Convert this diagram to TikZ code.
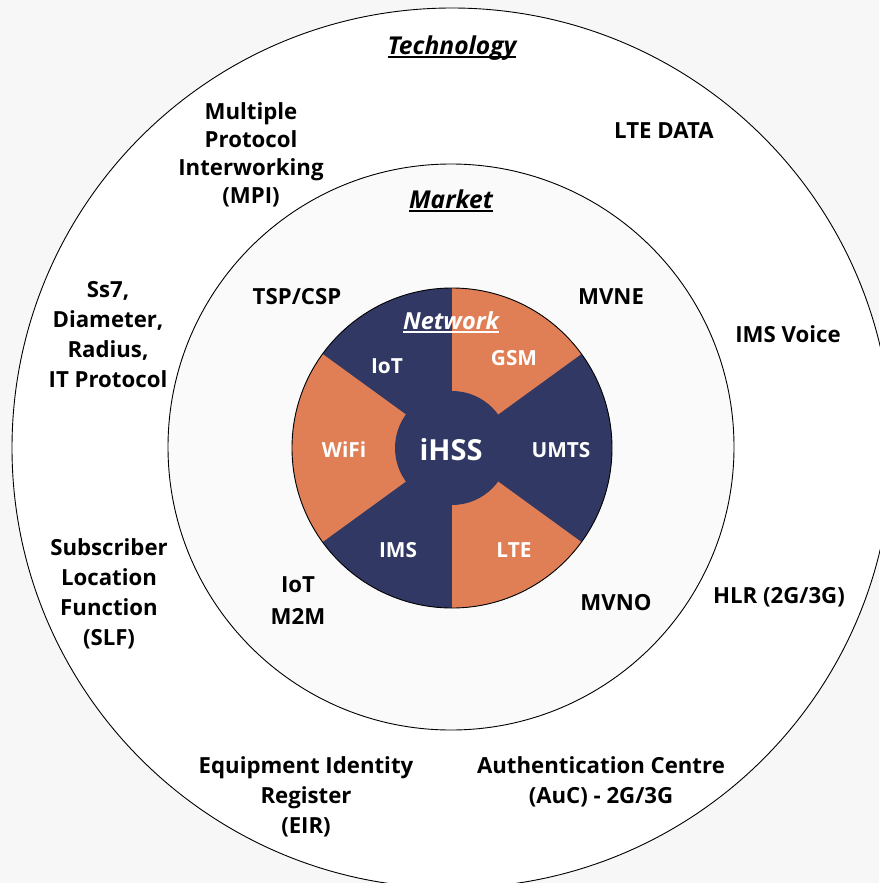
\documentclass[tikz,border=0pt]{standalone}
\usepackage{fontspec}
\setmainfont{Open Sans}
\newcommand\myul[2][3.2pt]{\setbox0\hbox{#2}\rlap{\rule[-#1]{\wd0}{1.7pt}}\box0}
\begin{document}
\definecolor{bgc}{HTML}{F7F7F7}
\definecolor{mkt}{HTML}{FAFAFA}
\definecolor{navy}{HTML}{313863}
\definecolor{orng}{HTML}{E07F55}
\begin{tikzpicture}[x=1pt,y=-1pt,
  lbl/.style={font=\fontsize{22.2}{30}\selectfont\bfseries,align=center,inner sep=0pt,text=black},
  wlbl/.style={font=\fontsize{20.8}{24}\selectfont\bfseries,align=center,inner sep=0pt,text=white},
  ttl/.style={font=\fontsize{24.6}{28}\selectfont\bfseries\itshape,align=center,inner sep=0pt},
  ring/.style={draw=black,line width=0.9pt}]
\useasboundingbox (0,0) rectangle (879,883);
\fill[bgc] (0,0) rectangle (879,883);
\coordinate (c) at (452,448);
\fill[white] (c) circle[radius=440];
\draw[ring] (c) circle[radius=440];
\fill[mkt] (451,447) circle[radius=283];
\draw[ring] (451,447) circle[radius=283];
% network pie
\fill[navy] (c) circle[radius=160];
\fill[orng] (c) -- ++(-90:160) arc[start angle=-90,end angle=-36,radius=160] -- cycle;
\fill[orng] (c) -- ++(36:160) arc[start angle=36,end angle=90,radius=160] -- cycle;
\fill[orng] (c) -- ++(144:160) arc[start angle=144,end angle=216,radius=160] -- cycle;
\fill[navy] (c) circle[radius=57];
\draw[ring] (c) circle[radius=160];
% titles
\node[ttl] (tech) at (452,48) {\myul{Technology}};
\node[ttl] (market) at (451,201) {\myul{Market}};
\node[ttl,text=white,font=\fontsize{23.5}{26}\selectfont\bfseries\itshape] (network) at (451,322) {\myul{Network}};
% outer ring labels
\node[lbl] (ltedata) at (664,131) {LTE DATA};
\node[lbl,font=\fontsize{22.2}{28}\selectfont\bfseries] (mpi) at (251,155) {Multiple\\Protocol\\Interworking\\(MPI)};
\node[lbl] (ss7) at (108,335) {Ss7,\\Diameter,\\Radius,\\IT Protocol};
\node[lbl] (imsvoice) at (788,334) {IMS Voice};
\node[lbl] (hlr) at (779,597) {HLR (2G/3G)};
\node[lbl] (slf) at (109,594) {Subscriber\\Location\\Function\\(SLF)};
\node[lbl] (eir) at (306,797) {Equipment Identity\\Register\\(EIR)};
\node[lbl] (auc) at (601,782) {Authentication Centre\\(AuC) - 2G/3G};
% market ring labels
\node[lbl] (tsp) at (297,297) {TSP/CSP};
\node[lbl] (mvne) at (611,297) {MVNE};
\node[lbl,font=\fontsize{22.2}{32}\selectfont\bfseries] (iotm2m) at (298,601) {IoT\\M2M};
\node[lbl] (mvno) at (616,603) {MVNO};
% network labels
\node[wlbl] (iot) at (387,366) {IoT};
\node[wlbl] (gsm) at (514,358) {GSM};
\node[wlbl] (wifi) at (344,450) {WiFi};
\node[wlbl] (umts) at (561,450) {UMTS};
\node[wlbl] (ims) at (398,550) {IMS};
\node[wlbl] (lte) at (514,550) {LTE};
\node[wlbl,font=\fontsize{29}{32}\selectfont\bfseries] (ihss) at (451,450) {iHSS};
\end{tikzpicture}
\end{document}
